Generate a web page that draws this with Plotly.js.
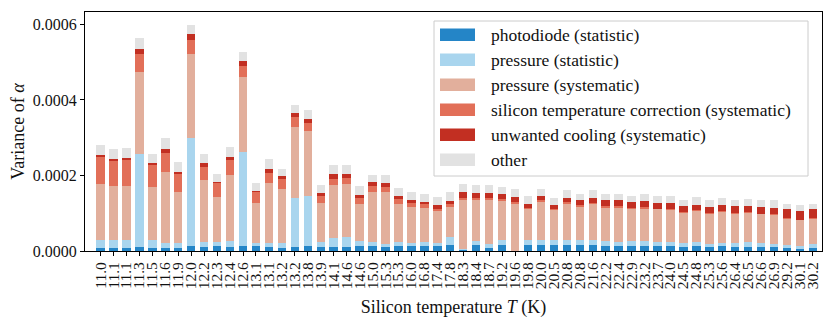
<!DOCTYPE html>
<html>
<head>
<meta charset="utf-8">
<script src="https://cdn.plot.ly/plotly-3.0.1.min.js"></script>
<style>
  html, body { margin: 0; padding: 0; background: #fff; }
  #chart { width: 831px; height: 330px; }
</style>
</head>
<body>
<div id="chart"></div>
<script>
// silicon temperature of each measurement (K), used as tick text
const temps = [
  '11.0', '11.1', '11.1', '11.3', '11.5', '11.6', '11.9', '12.0', '12.2', '12.3',
  '12.4', '12.6', '13.1', '13.1', '13.2', '13.2', '13.8', '13.9', '14.1', '14.6',
  '14.6', '15.0', '15.3', '15.3', '16.0', '16.8', '17.4', '17.8', '18.3', '18.4',
  '18.7', '19.2', '19.6', '19.8', '20.0', '20.5', '20.8', '20.8', '21.6', '22.2',
  '22.4', '22.9', '23.2', '23.7', '24.0', '24.5', '24.8', '25.3', '25.6', '26.4',
  '26.5', '26.6', '26.9', '29.2', '30.1', '30.2'
]

// variance contributions, in units of 1e-4
const photodiodeStat = [
  .08, .08, .08, .10, .09, .08, .09, .12, .10, .12, .11, .12, .12, .10, .09, .11,
  .12, .11, .11, .11, .13, .12, .11, .13, .14, .12, .14, .15, .03, .15, .08, .15,
  .00, .15, .15, .15, .15, .15, .17, .14, .14, .14, .14, .13, .13, .11, .13, .11,
  .13, .11, .11, .10, .10, .08, .06, .08
]
const pressureStat = [
  .20, .22, .20, 2.48, .21, .14, .13, 2.88, .15, .12, .15, 2.51, .08, .12, .11, 1.30,
  1.35, .12, .23, .26, .13, .12, .08, .12, .07, .12, .06, .22, .03, .12, .10, .15,
  .00, .15, .15, .14, .14, .14, .12, .13, .10, .13, .12, .12, .11, .10, .11, .08,
  .08, .10, .12, .11, .09, .07, .06, .11
]
const pressureSys = [
  1.49, 1.42, 1.44, 2.15, 1.40, 1.86, 1.35, 2.22, 1.62, 1.18, 1.75, 1.97, 1.07, 1.58, 1.44, 1.87,
  1.72, 1.04, 1.40, 1.41, .99, 1.32, 1.37, .99, .96, .89, .86, .80, 1.28, 1.07, 1.16, 1.02,
  1.24, .80, 1.00, .79, .96, .88, .95, .88, .91, .84, .86, .85, .84, .80, .82, .80,
  .83, .78, .77, .76, .76, .71, .69, .66
]
const siliconSys = [
  .73, .66, .68, .50, .57, .52, .46, .38, .36, .38, .39, .30, .28, .27, .26, .27,
  .20, .20, .18, .16, .16, .15, .13, .15, .10, .11, .06, .08, .07, .07, .07, .05,
  .06, .05, .04, .04, .05, .04, .04, .03, .03, .04, .05, .02, .02, .02, .02, .02,
  .02, .02, .03, .02, .02, .02, .02, .02
]
const coolingSys = [
  .05, .07, .06, .13, .06, .10, .06, .15, .10, .04, .10, .13, .05, .10, .08, .10,
  .11, .07, .13, .11, .08, .11, .11, .07, .07, .07, .09, .07, .15, .13, .13, .13,
  .13, .10, .13, .09, .11, .15, .13, .16, .16, .15, .15, .15, .17, .15, .15, .16,
  .17, .17, .17, .18, .18, .22, .22, .23
]
const other = [
  .27, .25, .26, .29, .24, .30, .26, .23, .23, .21, .25, .25, .20, .28, .20, .23,
  .24, .22, .22, .24, .22, .20, .22, .21, .21, .19, .21, .23, .22, .20, .20, .20,
  .22, .20, .18, .19, .20, .16, .20, .16, .18, .17, .18, .18, .18, .18, .20, .17,
  .17, .18, .17, .17, .19, .15, .16, .15
]

const seriesNames = [
  'photodiode (statistic)',
  'pressure (statistic)',
  'pressure (systematic)',
  'silicon temperature correction (systematic)',
  'unwanted cooling (systematic)',
  'other'
]
const seriesValues = [photodiodeStat, pressureStat, pressureSys, siliconSys, coolingSys, other]
const colors = ['#2485c7', '#a9d5ee', '#e2af9c', '#e26f58', '#c22f22', '#e2e2e2']

const FONT = 'Liberation Serif, DejaVu Serif, serif'
const idx = temps.map((t, i) => i)

const data = seriesValues.map((vals, s) => ({
  type: 'bar',
  x: idx,
  y: vals.map(v => v * 1e-4),
  name: seriesNames[s],
  width: 0.65,
  marker: { color: colors[s], line: { width: 0 } },
  hoverinfo: 'skip',
  showlegend: false,
}))

// hand-drawn legend (matplotlib style wide swatches)
const L = 85, R = 9, T = 12, B = 79
const pw = 831 - L - R, ph = 330 - T - B
const px = x => (x - L) / pw
const py = y => (330 - B - y) / ph

const shapes = []
const annotations = []

const bx0 = px(434), bx1 = px(808), by0 = py(21), by1 = py(176)
shapes.push({
  type: 'rect', xref: 'paper', yref: 'paper',
  x0: bx0, x1: bx1, y0: by1, y1: by0,
  line: { color: '#cccccc', width: 1 },
  fillcolor: 'rgba(255,255,255,0.85)',
  layer: 'above',
})

seriesNames.forEach((name, i) => {
  const cy = 34.7 + i * 25
  shapes.push({
    type: 'rect', xref: 'paper', yref: 'paper',
    x0: px(440), x1: px(475), y0: py(cy + 6.3), y1: py(cy - 6.3),
    line: { width: 0 }, fillcolor: colors[i], layer: 'above',
  })
  annotations.push({
    xref: 'paper', yref: 'paper', x: px(489), y: py(cy),
    xanchor: 'left', yanchor: 'middle', showarrow: false,
    text: name, font: { family: FONT, size: 17.5, color: '#111' },
  })
})

const layout = {
  width: 831,
  height: 330,
  margin: { l: L, r: R, t: T, b: B },
  paper_bgcolor: '#fff',
  plot_bgcolor: '#fff',
  barmode: 'stack',
  bargap: 0,
  font: { family: FONT, size: 15, color: '#111' },
  xaxis: {
    range: [-1.2, 55.7],
    tickmode: 'array',
    tickvals: idx,
    ticktext: temps,
    tickangle: -90,
    ticks: 'outside',
    ticklen: 4,
    tickcolor: '#000',
    showline: true,
    linecolor: '#000',
    linewidth: 1,
    mirror: true,
    showgrid: false,
    zeroline: false,
    tickfont: { family: FONT, size: 15.5 },
    title: { text: 'Silicon temperature <i>T</i> (K)', standoff: 12, font: { family: FONT, size: 18 } },
  },
  yaxis: {
    range: [0, 0.000633],
    tickvals: [0, 0.0002, 0.0004, 0.0006],
    tickformat: '.4f',
    ticks: 'outside',
    ticklen: 4,
    tickcolor: '#000',
    showline: true,
    linecolor: '#000',
    linewidth: 1,
    mirror: true,
    showgrid: false,
    zeroline: false,
    tickfont: { family: FONT, size: 16 },
    title: { text: 'Variance of <i>α</i>', standoff: 3, font: { family: FONT, size: 18 } },
  },
  shapes,
  annotations,
}

Plotly.newPlot('chart', data, layout, { staticPlot: true })
</script>
</body>
</html>
